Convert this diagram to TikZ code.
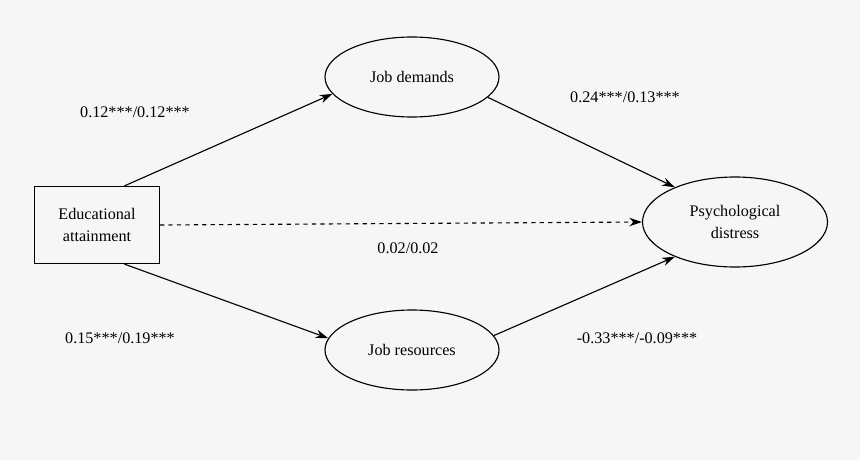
\documentclass[tikz,border=0pt]{standalone}
\usepackage{fontspec}
\setmainfont{Liberation Serif}
\usetikzlibrary{arrows.meta,shapes.geometric}
\definecolor{bggray}{RGB}{246,246,246}
\begin{document}
\begin{tikzpicture}[x=0.025cm,y=-0.025cm,font=\fontsize{11.5}{13}\selectfont]
%%%%%%%%%%%%%%%%%%%%%%%%%%%%%%%%%%%%%%%%%%%%%%%%%%%%%%%%%%%%%%
%styles
\tikzstyle{box}=[rectangle,draw=black,thick,minimum width=125*0.025cm,minimum height=77*0.025cm,align=center,inner sep=0pt]
\tikzstyle{oval}=[ellipse,draw=black,thick,minimum width=174*0.025cm,minimum height=80*0.025cm,align=center,inner sep=0pt]
\tikzstyle{path}=[-{Stealth[length=9pt,width=6pt]},thick]
\fill[bggray] (0,0) rectangle (860,460);
\useasboundingbox (0,0) rectangle (860,460);
%nodes
\node[box] (edu) at (97,225) {Educational\\[3pt]attainment};
\node[oval] (demands) at (412,77) {Job demands};
\node[oval] (resources) at (412,350) {Job resources};
\node[oval,minimum width=185*0.025cm,minimum height=90*0.025cm] (distress) at (735,222) {Psychological\\[3pt]distress};
%coefficients
\node (c1) at (135,112) {0.12***/0.12***};
\node (c2) at (625,97) {0.24***/0.13***};
\node (c3) at (408,248) {0.02/0.02};
\node (c4) at (120,338) {0.15***/0.19***};
\node (c5) at (637,338) {-0.33***/-0.09***};
%%%%%%%%%%%%%%%%%%%%%%%%%%%%%%%%%%%%%%%%%%%%%%%%%%%%%%%%%%%%%%
%ARROWS
\draw[path] (edu.55) -- (demands.192);
\draw[path] (demands.-15) -- (distress.150);
\draw[path,dashed] (edu.east) -- (distress.west);
\draw[path] (edu.-55) -- (resources.172);
\draw[path] (resources.10) -- (distress.210);
\end{tikzpicture}
\end{document}
